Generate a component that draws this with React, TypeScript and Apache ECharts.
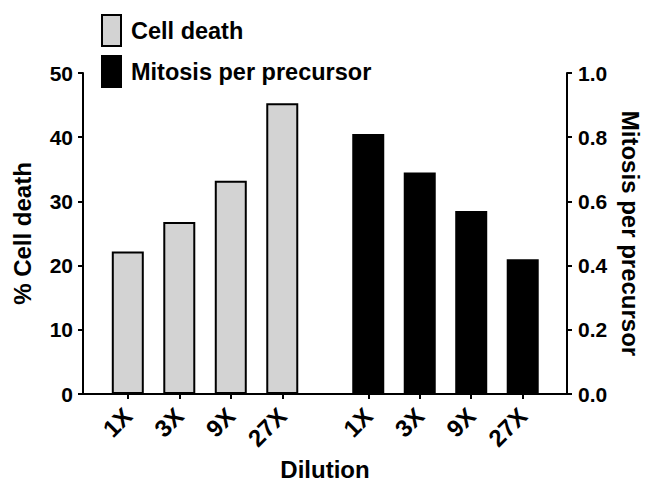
import React, { useEffect, useRef } from "react";
import * as echarts from "echarts";

// ---- data ----
const dilutionLabels = ["1X", "3X", "9X", "27X"];
const cellDeath = [22.2, 26.8, 33.2, 45.3]; // % Cell death (left axis)
const mitosisPerPrecursor = [0.81, 0.69, 0.57, 0.42]; // right axis
const leftAxisMax = 50;
const leftAxisStep = 10;
const rightAxisMax = 1.0;
const rightAxisStep = 0.2;
// x-axis position (in category units) where each group's first bar sits
const groupStarts = [0.87, 5.54];
const xAxisMax = 9.4;

const FONT = "'Liberation Sans', Arial, Helvetica, sans-serif";

export default function App() {
  const ref = useRef<HTMLDivElement>(null);

  useEffect(() => {
    document.body.style.margin = "0";
    if (!ref.current) return;
    const chart = echarts.init(ref.current, null, { renderer: "svg" });

    const cellX = dilutionLabels.map((_, i) => groupStarts[0] + i);
    const mitX = dilutionLabels.map((_, i) => groupStarts[1] + i);
    const allX = [...cellX, ...mitX];
    const allLabels = [...dilutionLabels, ...dilutionLabels];
    const labelFor = (v: number) => {
      let best = 0;
      let bd = Infinity;
      allX.forEach((x, i) => {
        const d = Math.abs(x - v);
        if (d < bd) {
          bd = d;
          best = i;
        }
      });
      return bd < 0.3 ? allLabels[best] : "";
    };

    const axisLine = { show: true, lineStyle: { color: "#000", width: 2 } };
    const axisTick = { show: true, length: 5, lineStyle: { color: "#000", width: 2 } };
    const labelStyle = { color: "#000", fontWeight: "bold" as const, fontFamily: FONT };
    const nameStyle = { color: "#000", fontWeight: "bold" as const, fontFamily: FONT, fontSize: 24 };

    chart.setOption({
      animation: false,
      backgroundColor: "#fff",
      grid: {
        left: 83,
        right: 79,
        top: 73,
        bottom: 90,
        containLabel: false,
        outerBoundsMode: "none",
      },
      legend: {
        orient: "vertical",
        left: 101,
        top: 14,
        padding: 0,
        itemWidth: 19,
        itemHeight: 31,
        itemGap: 8,
        icon: "rect",
        selectedMode: false,
        textStyle: { ...labelStyle, fontSize: 23.5, padding: [0, 0, 0, 5] },
        data: ["Cell death", "Mitosis per precursor"],
      },
      xAxis: {
        type: "value",
        min: 0,
        max: xAxisMax,
        name: "Dilution",
        nameLocation: "middle",
        nameGap: 62,
        nameTextStyle: nameStyle,
        axisLine,
        axisTick: { ...axisTick, customValues: allX },
        axisLabel: {
          ...labelStyle,
          fontSize: 24,
          rotate: 45,
          margin: 18,
          customValues: allX,
          formatter: (v: number) => labelFor(v),
        },
        splitLine: { show: false },
      },
      yAxis: [
        {
          type: "value",
          position: "left",
          min: 0,
          max: leftAxisMax,
          interval: leftAxisStep,
          name: "% Cell death",
          nameLocation: "middle",
          nameGap: 49,
          nameTextStyle: nameStyle,
          axisLine,
          axisTick,
          axisLabel: { ...labelStyle, fontSize: 21, margin: 10 },
          splitLine: { show: false },
        },
        {
          type: "value",
          position: "right",
          min: 0,
          max: rightAxisMax,
          interval: rightAxisStep,
          name: "Mitosis per precursor",
          nameLocation: "middle",
          nameGap: 51,
          nameRotate: -90,
          nameTextStyle: nameStyle,
          axisLine,
          axisTick,
          axisLabel: {
            ...labelStyle,
            fontSize: 21,
            margin: 11,
            formatter: (v: number) => v.toFixed(1),
          },
          splitLine: { show: false },
        },
      ],
      series: [
        {
          name: "Cell death",
          type: "bar",
          yAxisIndex: 0,
          barWidth: 32,
          barGap: "-100%",
          itemStyle: { color: "#d3d3d3", borderColor: "#000", borderWidth: 2 },
          data: cellX.map((x, i) => [x, cellDeath[i]]),
        },
        {
          name: "Mitosis per precursor",
          type: "bar",
          yAxisIndex: 1,
          barWidth: 32,
          barGap: "-100%",
          itemStyle: { color: "#000", borderColor: "#000", borderWidth: 2 },
          data: mitX.map((x, i) => [x, mitosisPerPrecursor[i]]),
        },
      ],
    });

    return () => chart.dispose();
  }, []);

  return <div ref={ref} style={{ width: 646, height: 484 }} />;
}
